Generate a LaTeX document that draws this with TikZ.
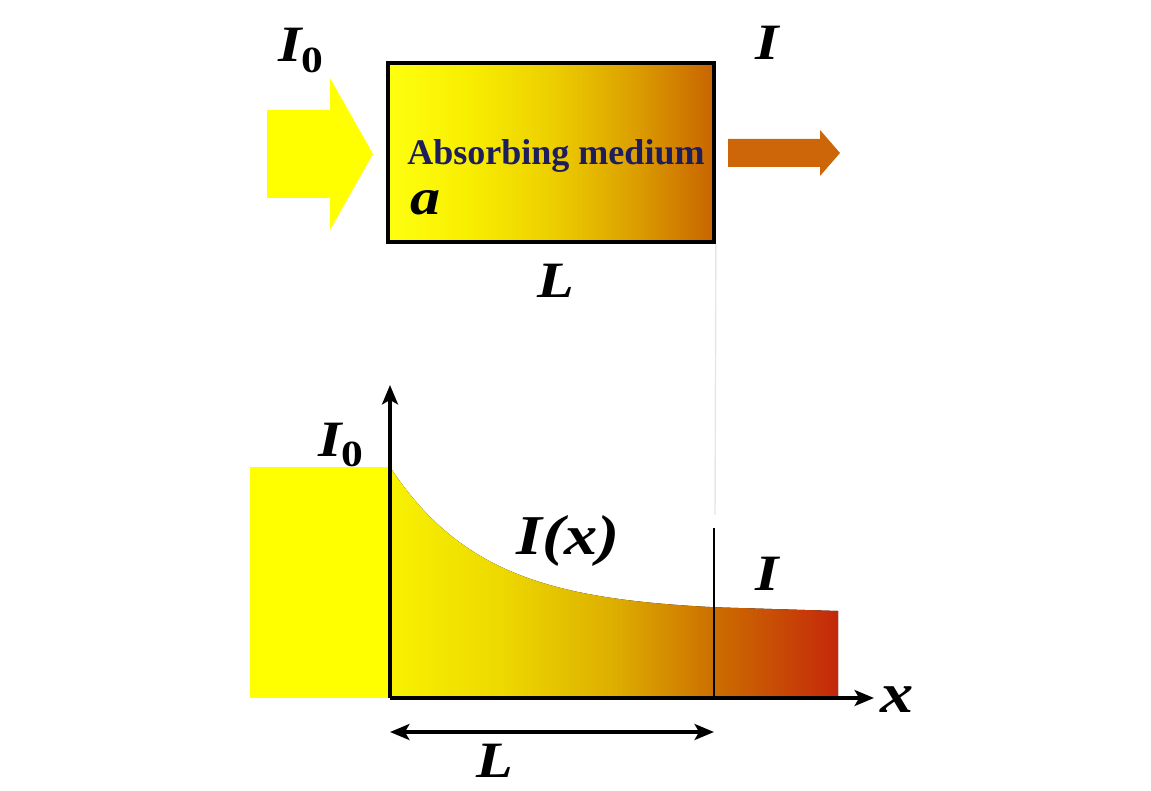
\documentclass[tikz,border=0pt]{standalone}
\usepackage{graphicx}
\usepackage{fontspec}
\setmainfont{Liberation Serif}
\usetikzlibrary{arrows.meta, positioning, calc}
\definecolor{beamyellow}{HTML}{FFFF00}
\definecolor{beamorange}{HTML}{CC6608}
\definecolor{labelnavy}{HTML}{1E1E5C}
\definecolor{guidegray}{HTML}{E6E6E6}
\definecolor{mediumA}{HTML}{FFFF10}
\definecolor{mediumB}{HTML}{F8EE00}
\definecolor{mediumC}{HTML}{EDCF00}
\definecolor{mediumD}{HTML}{DCA000}
\definecolor{mediumE}{HTML}{C86400}
\definecolor{decayA}{HTML}{F8F200}
\definecolor{decayB}{HTML}{EDD800}
\definecolor{decayC}{HTML}{DDAE00}
\definecolor{decayD}{HTML}{CC6E00}
\definecolor{decayE}{HTML}{C4280A}
\pgfdeclarehorizontalshading{mediumshade}{100bp}{color(0bp)=(mediumA); color(25bp)=(mediumA);
  color(37.5bp)=(mediumB); color(50bp)=(mediumC); color(62.5bp)=(mediumD);
  color(75bp)=(mediumE); color(100bp)=(mediumE)}
\pgfdeclarehorizontalshading{decayshade}{100bp}{color(0bp)=(decayA); color(25bp)=(decayA);
  color(37.5bp)=(decayB); color(50bp)=(decayC); color(61.25bp)=(decayD);
  color(75bp)=(decayE); color(100bp)=(decayE)}
\newcommand{\subzero}{\raisebox{-6pt}{\fontsize{21}{21}\selectfont\upshape 0}}
\newcommand{\widesym}[1]{\scalebox{1.18}[1]{#1}}

\begin{document}
\begin{tikzpicture}[
    x=0.02cm, y=-0.02cm,
    >={Stealth[length=11pt, width=9pt, inset=2.5pt]},
    % -- shared styles --
    sym label/.style={font=\fontsize{29}{32}\selectfont\bfseries\itshape,
        inner sep=0pt, anchor=base west},
    big sym label/.style={sym label, font=\fontsize{32}{35}\selectfont\bfseries\itshape},
    medium box/.style={draw=black, line width=2.2pt, shading=mediumshade,
        minimum width=6.52cm, minimum height=3.58cm, inner sep=0pt},
    medium text/.style={font=\fontsize{20.5}{22}\selectfont\bfseries,
        text=labelnavy, inner sep=0pt, anchor=base west},
    axis line/.style={->, line width=2.4pt},
    span line/.style={<->, line width=2.4pt},
    guide/.style={draw=guidegray, line width=0.8pt},
    exit line/.style={line width=0.9pt},
]
\useasboundingbox (0,0) rectangle (1151,790);

% ======================================================================
%  TOP: beam through the absorbing medium
% ======================================================================
\node[medium box] (medium) at (551,152.5) {};

% incoming and outgoing beams
\fill[beamyellow] (267,110) -- (330,110) -- (330,78) -- (373,154)
    -- (330,230) -- (330,198) -- (267,198) -- cycle;
\fill[beamorange] (728,139) -- (820,139) -- (820,130) -- (840,153)
    -- (820,176) -- (820,167) -- (728,167) -- cycle;

\node[sym label] (inTop) at (278,62) {\widesym{I\subzero}};
\node[sym label] (outTop) at (755,60) {\widesym{I}};
\node[medium text] (mediumName) at (407,165) {Absorbing medium};
\node[sym label] (coef) at (410,215) {\widesym{a}};
\node[sym label] (lenTop) at (537,297) {\widesym{L}};

% faint guide down to the plot
\coordinate (guideFoot) at (715,515);
\draw[guide] (medium.south east) -- (guideFoot);

% ======================================================================
%  BOTTOM: intensity profile
% ======================================================================
\coordinate (origin) at (390,698);
\coordinate (yTip) at (390,385);
\coordinate (xTip) at (874,698);
\coordinate (exitTop) at (714,528);
\coordinate (exitFoot) at (714,698);
\coordinate (Lstart) at (390,732);
\coordinate (Lend) at (714,732);

\fill[beamyellow] (250,467) rectangle (388,698);
\fill[shading=decayshade] (origin) -- (390,467)
    -- plot[domain=390:715, samples=60] (\x, {612-145*exp(-(\x-390)/95)})
    -- (838,611) -- (838,698) -- cycle;

\draw[exit line] (exitTop) -- (exitFoot);
\draw[axis line] (origin) -- (yTip);
\draw[axis line] (origin) -- (xTip);
\draw[span line] (Lstart) -- (Lend);

\node[sym label] (inBottom) at (318,456) {\widesym{I\subzero}};
\node[big sym label] (profile) at (516,554) {\widesym{I(x)}};
\node[sym label] (outBottom) at (755,590) {\widesym{I}};
\node[big sym label] (xLabel) at (880,712) {\widesym{x}};
\node[sym label] (lenBottom) at (476,777) {\widesym{L}};

\end{tikzpicture}
\end{document}
